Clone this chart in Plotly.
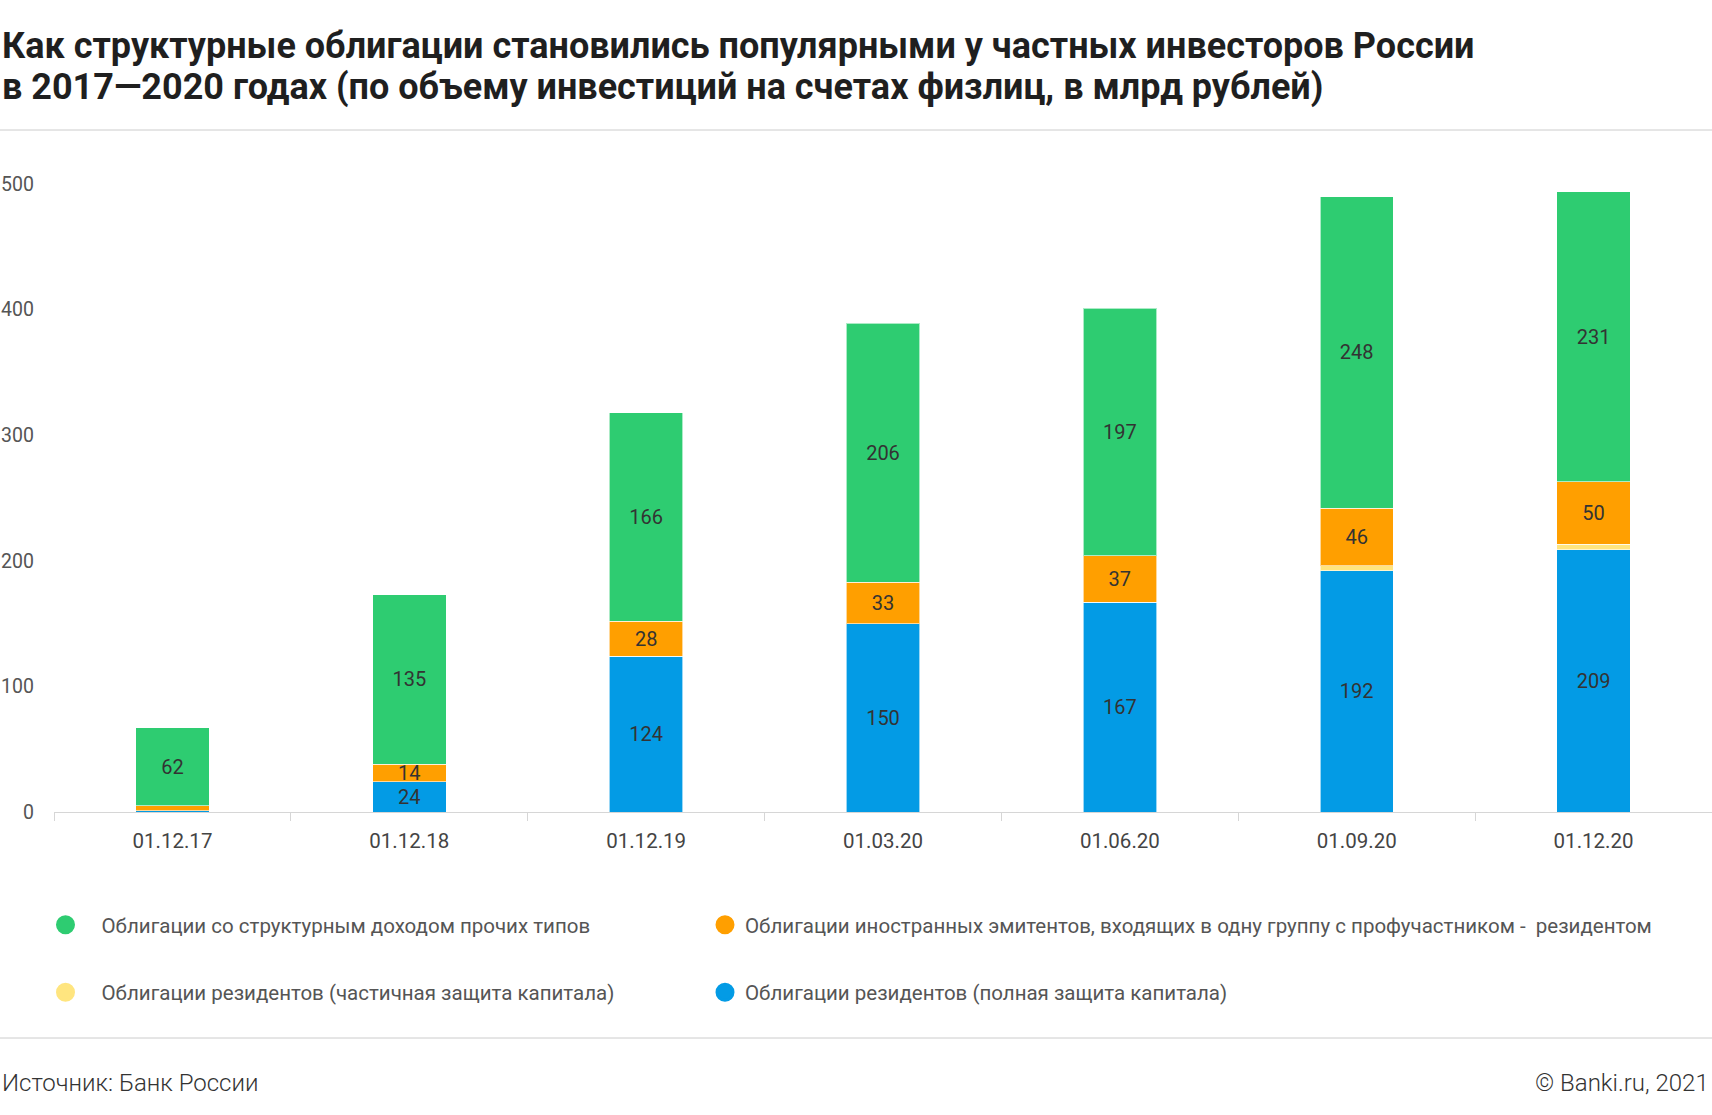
import plotly.graph_objects as go

categories = ["01.12.17", "01.12.18", "01.12.19", "01.03.20", "01.06.20", "01.09.20", "01.12.20"]
resident_full = [1, 24, 124, 150, 167, 192, 209]
resident_partial = [0, 0, 0, 0, 0, 4, 4]
foreign_group = [4, 14, 28, 33, 37, 46, 50]
other_structured = [62, 135, 166, 206, 197, 248, 231]

title_lines = [
    "Как структурные облигации становились популярными у частных инвесторов России",
    "в 2017—2020 годах (по объему инвестиций на счетах физлиц, в млрд рублей)",
]

names = {
    "full": "Облигации резидентов (полная защита капитала)",
    "partial": "Облигации резидентов (частичная защита капитала)",
    "foreign": "Облигации иностранных эмитентов, входящих в одну группу с профучастником -  резидентом",
    "other": "Облигации со структурным доходом прочих типов",
}
colors = {"full": "#039BE5", "partial": "#FFE57F", "foreign": "#FF9F00", "other": "#2ECC71"}

W, H = 1712, 1115
ML, MR, MT, MB = 54, 0, 184, 303
PW, PH = W - ML - MR, H - MT - MB

def px_x(x):
    return (x - ML) / PW

def px_y(y):
    return (H - MB - y) / PH

def labels(vals):
    return [str(v) if v >= 10 else "" for v in vals]

fig = go.Figure()
series = [("full", resident_full), ("partial", resident_partial), ("foreign", foreign_group), ("other", other_structured)]
for key, vals in series:
    fig.add_trace(go.Bar(
        x=categories, y=vals, name=names[key], showlegend=False,
        marker=dict(color=colors[key], line=dict(color="rgba(255,255,255,0.6)", width=1)),
        text=labels(vals), textposition="inside", insidetextanchor="middle", textangle=0,
        textfont=dict(family="Roboto", size=20, color="#333333"),
        hoverinfo="skip", width=0.31,
    ))

legend_pos = {
    "other": ("legend", 29.5, 925, 62),
    "foreign": ("legend2", 705, 925, 30),
    "partial": ("legend3", 29.5, 992.5, 62),
    "full": ("legend4", 705, 992.5, 30),
}
for key in ["other", "foreign", "partial", "full"]:
    fig.add_trace(go.Scatter(
        x=[None], y=[None], mode="markers", name=names[key],
        marker=dict(color=colors[key], size=16, symbol="circle", line=dict(color=colors[key], width=3)),
        legend=legend_pos[key][0], showlegend=True,
    ))

legend_layout = {}
for key, (lg, x, y, iw) in legend_pos.items():
    legend_layout[lg] = dict(
        x=px_x(x), y=px_y(y), xanchor="left", yanchor="middle",
        font=dict(family="Roboto", size=20.5, color="#555555"),
        itemwidth=iw, bgcolor="rgba(0,0,0,0)", borderwidth=0,
        itemclick=False, itemdoubleclick=False,
    )

annotations = []
for line, yy in zip(title_lines, [46, 87.5]):
    annotations.append(dict(
        text=line, xref="paper", yref="paper", x=px_x(0), y=px_y(yy),
        xanchor="left", yanchor="middle", showarrow=False,
        font=dict(family="Roboto", size=36, color="#1f1f1f", weight="bold"),
    ))
annotations += [
    dict(text="Источник: Банк России", xref="paper", yref="paper", x=px_x(0), y=px_y(1083),
         xanchor="left", yanchor="middle", showarrow=False,
         font=dict(family="Roboto", size=24, color="#333333", weight=300)),
    dict(text="© Banki.ru, 2021", xref="paper", yref="paper", x=px_x(W - 1), y=px_y(1083),
         xanchor="right", yanchor="middle", showarrow=False,
         font=dict(family="Roboto", size=24, color="#333333", weight=300)),
]

fig.update_layout(
    width=W, height=H,
    margin=dict(l=ML, r=MR, t=MT, b=MB),
    paper_bgcolor="white", plot_bgcolor="white",
    barmode="stack", bargap=0.69,
    uniformtext=dict(minsize=20, mode="show"),
    xaxis=dict(
        type="category", showgrid=False, showline=True, linecolor="#d6d6d6", linewidth=1,
        ticks="outside", tickson="boundaries", ticklen=8, tickcolor="#d6d6d6",
        tickfont=dict(family="Roboto", size=20.5, color="#444444"),
        ticklabelstandoff=10, fixedrange=True,
    ),
    yaxis=dict(
        range=[0, 500], tickvals=[0, 100, 200, 300, 400, 500],
        showgrid=False, showline=False, zeroline=False, ticks="",
        tickfont=dict(family="Roboto", size=19.5, color="#555555"),
        ticklabelstandoff=19, fixedrange=True,
    ),
    shapes=[
        dict(type="line", xref="paper", yref="paper", x0=px_x(0), x1=px_x(W), y0=px_y(130), y1=px_y(130),
             line=dict(color="#cccccc", width=1)),
        dict(type="line", xref="paper", yref="paper", x0=px_x(0), x1=px_x(W), y0=px_y(1038), y1=px_y(1038),
             line=dict(color="#cccccc", width=1)),
    ],
    annotations=annotations,
    **legend_layout,
)

fig.write_html("out.html", config={"displayModeBar": False},
               post_script="document.body.style.margin='0';document.body.style.overflow='hidden';")
